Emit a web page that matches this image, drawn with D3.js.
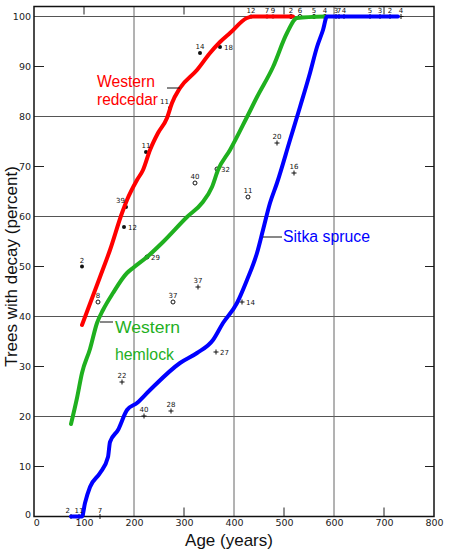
<!DOCTYPE html>
<html><head><meta charset="utf-8">
<script src="https://cdn.jsdelivr.net/npm/d3@7"></script>
<style>
body{margin:0;background:#fff;}
svg{display:block;}
</style></head>
<body>
<svg id="chart" width="450" height="550"></svg>
<script>
// ---- Data ----
const redcedarAge = [96,132,152,176,186,206,218,232,248,266,276,292,326,352,372,392,426,438,518];
const redcedarPct = [38.3,47.9,53.3,60.7,63.3,67.3,69.3,73.3,76.7,79.7,82.7,85.7,89.3,92.7,94.9,96.7,99.7,100,100];

const hemlockAge = [74,86,96,112,126,138,158,186,198,226,258,306,336,356,368,392,426,446,478,506,526,582];
const hemlockPct = [18.5,23.7,28.7,33.5,38.7,41.3,44.7,48.7,49.7,51.9,54.9,59.9,62.7,65.9,69.3,73.3,79.9,83.9,89.9,96.7,99.7,100];

const spruceAge = [74,96,102,112,132,148,152,168,186,206,232,292,326,358,378,406,426,446,458,472,486,512,532,552,566,578,586,728];
const sprucePct = [0,0,2.7,5.9,8.7,11.9,14.9,17.3,21.3,22.7,25.3,30.7,32.7,35.3,38.7,42.7,47.3,52.7,57.3,62.7,66.7,75.3,81.9,88.7,93.9,97.3,100,100];

// observed plots: age, percent, sample-size label
const redcedarPtAge = [96,180,184,224,272,332,372,434,466,478];
const redcedarPtPct = [50,57.9,61.9,72.9,81.7,92.7,93.9,100,100,100];
const redcedarPtLbl = ["2","12","39","11","11","14","18","12","7","9"];
const redcedarPtSide = ["a","r","al","a","al","a","r","a","a","a"];

const hemlockPtAge = [128,226,322,366,428,278,514,532,560,582];
const hemlockPtPct = [42.9,51.9,66.7,69.5,63.9,42.9,100,100,100,100];
const hemlockPtLbl = ["8","29","40","32","11","37","2","6","5","4"];
const hemlockPtSide = ["a","r","a","r","a","a","a","a","a","a"];

const sprucePtAge = [486,520,416,364,176,220,274,328,132,74,90,604,610,620,672,692,712,734];
const sprucePtPct = [74.7,68.7,42.9,32.9,26.9,20.1,21.1,45.9,0,0,0,100,100,100,100,100,100,100];
const sprucePtLbl = ["20","16","14","27","22","40","28","37","7","2","11","3","7","4","5","3","2","4"];
const sprucePtSide = ["a","a","r","r","a","a","a","a","a","al","a","a","a","a","a","a","a","a"];

const xTicks = [0,100,200,300,400,500,600,700,800];
const yTicks = [0,10,20,30,40,50,60,70,80,90,100];
const xGrid = [200,400,600];
const yGrid = [20,40,60,80,100];
const xMinor = [100,300,500,700];
const yMinor = [10,30,50,70,90];

// ---- Scales ----
const svg = d3.select("#chart");
const x = d3.scaleLinear().domain([0,800]).range([34,434]);
const y = d3.scaleLinear().domain([0,100]).range([516.5,16.5]);
const yTop = 102;

const COL = {red:"#ff0000", green:"#1fb01f", blue:"#0000ff"};

// grid
const g = svg.append("g");
g.selectAll(".hg").data(yGrid).join("line")
  .attr("x1", x(0)).attr("x2", x(800))
  .attr("y1", d=>y(d)).attr("y2", d=>y(d))
  .attr("stroke","#555").attr("stroke-width",1);
g.selectAll(".vg").data(xGrid).join("line")
  .attr("x1", d=>x(d)).attr("x2", d=>x(d))
  .attr("y1", y(0)).attr("y2", y(yTop))
  .attr("stroke","#666").attr("stroke-width",1);

// axes
const tickFont = "DejaVu Sans, sans-serif";
const left = svg.append("g").attr("transform",`translate(${x(0)},0)`)
  .call(d3.axisLeft(y).tickValues(yTicks).tickSizeInner(0).tickSizeOuter(0).tickPadding(3));
left.select(".domain").remove();
left.selectAll("text").attr("font-family",tickFont).attr("font-size",9.5).attr("fill","#222");
left.selectAll("text").filter(d=>d===0).attr("dy","0.1em");

const bottom = svg.append("g").attr("transform",`translate(0,${y(0)})`)
  .call(d3.axisBottom(x).tickValues(xTicks).tickSizeInner(0).tickSizeOuter(0).tickPadding(3));
bottom.select(".domain").remove();
bottom.selectAll("text").attr("font-family",tickFont).attr("font-size",9.5).attr("fill","#222");
bottom.selectAll("text").filter(d=>d===0).attr("dx","0.25em");

// inward minor ticks
const tk = svg.append("g").attr("stroke","#222").attr("stroke-width",1);
tk.selectAll(".tl").data(yMinor).join("line")
  .attr("x1",x(0)).attr("x2",x(0)+10).attr("y1",d=>y(d)).attr("y2",d=>y(d));
tk.selectAll(".tr").data(yMinor).join("line")
  .attr("x1",x(800)).attr("x2",x(800)-9).attr("y1",d=>y(d)).attr("y2",d=>y(d));
tk.selectAll(".tb").data(xMinor).join("line")
  .attr("x1",d=>x(d)).attr("x2",d=>x(d)).attr("y1",y(0)).attr("y2",y(0)-9);
tk.selectAll(".tt").data(xMinor).join("line")
  .attr("x1",d=>x(d)).attr("x2",d=>x(d)).attr("y1",y(yTop)).attr("y2",y(yTop)+8);

// frame
svg.append("rect").attr("x",x(0)).attr("y",y(yTop))
  .attr("width",x(800)-x(0)).attr("height",y(0)-y(yTop))
  .attr("fill","none").attr("stroke","#111").attr("stroke-width",1.5);

// axis titles
svg.append("text").attr("x",x(390)).attr("y",546).attr("text-anchor","middle")
  .attr("font-family","Liberation Sans, Arial, sans-serif").attr("font-size",17).attr("fill","#111")
  .text("Age (years)");
svg.append("text").attr("transform",`translate(17,${y(50)}) rotate(-90)`).attr("text-anchor","middle")
  .attr("font-family","Liberation Sans, Arial, sans-serif").attr("font-size",17).attr("fill","#111")
  .text("Trees with decay (percent)");

// layers: markers under curves, labels above
const markLayer = svg.append("g");
const curveLayer = svg.append("g");
const lblLayer = svg.append("g");

function drawPoints(ages,pcts,lbls,sides,type){
  const data = ages.map((a,i)=>({a, p:pcts[i], l:lbls[i], s:sides[i]}));
  data.forEach(d=>{
    const cx = x(d.a), cy = y(d.p);
    if(type==="dot"){
      markLayer.append("circle").attr("cx",cx).attr("cy",cy).attr("r",2).attr("fill","#111");
    } else if(type==="ring"){
      markLayer.append("circle").attr("cx",cx).attr("cy",cy).attr("r",2).attr("fill","#fff")
        .attr("stroke","#111").attr("stroke-width",1);
    } else {
      markLayer.append("path").attr("d",`M${cx-2.5},${cy}H${cx+2.5}M${cx},${cy-2.5}V${cy+2.5}`)
        .attr("stroke","#111").attr("stroke-width",1);
    }
    const t = lblLayer.append("text").attr("font-family",tickFont).attr("font-size",7).attr("fill","#111").text(d.l);
    if(d.s==="r"){ t.attr("x",cx+4).attr("y",cy+2.5); }
    else if(d.s==="al"){ t.attr("x",cx-1).attr("y",cy-4).attr("text-anchor","end"); }
    else { t.attr("x",cx).attr("y",cy-4).attr("text-anchor","middle"); }
  });
}
drawPoints(redcedarPtAge,redcedarPtPct,redcedarPtLbl,redcedarPtSide,"dot");
drawPoints(hemlockPtAge,hemlockPtPct,hemlockPtLbl,hemlockPtSide,"ring");
drawPoints(sprucePtAge,sprucePtPct,sprucePtLbl,sprucePtSide,"plus");

// curves
const line = d3.line().x(d=>x(d[0])).y(d=>y(d[1])).curve(d3.curveMonotoneX);
function drawCurve(ages,pcts,color){
  curveLayer.append("path").datum(ages.map((a,i)=>[a,pcts[i]])).attr("d",line)
    .attr("fill","none").attr("stroke",color).attr("stroke-width",4)
    .attr("stroke-linejoin","round").attr("stroke-linecap","round");
}
drawCurve(redcedarAge,redcedarPct,COL.red);
drawCurve(hemlockAge,hemlockPct,COL.green);
drawCurve(spruceAge,sprucePct,COL.blue);

// species labels with leaders
const labFont = "Liberation Sans, Arial, sans-serif";
function speciesLabel(lines, widths, age, pct, color, lineGap){
  lines.forEach((s,i)=>{
    svg.append("text").attr("x",x(age)).attr("y",y(pct)+i*lineGap)
      .attr("font-family",labFont).attr("font-size",16).attr("fill",color)
      .attr("textLength",widths[i]).attr("lengthAdjust","spacingAndGlyphs").text(s);
  });
}
function leader(a1,a2,p){
  svg.append("line").attr("x1",x(a1)).attr("x2",x(a2)).attr("y1",y(p)).attr("y2",y(p))
    .attr("stroke","#111").attr("stroke-width",1);
}
speciesLabel(["Western","redcedar"],[58,61],126,85.9,COL.red,17.5);
leader(266,292,85.7);
speciesLabel(["Western","hemlock"],[65,59],162,36.7,COL.green,27);
leader(132,158,38.9);
speciesLabel(["Sitka spruce"],[87],498,54.9,COL.blue,0);
leader(458,496,55.9);
</script>
</body></html>
